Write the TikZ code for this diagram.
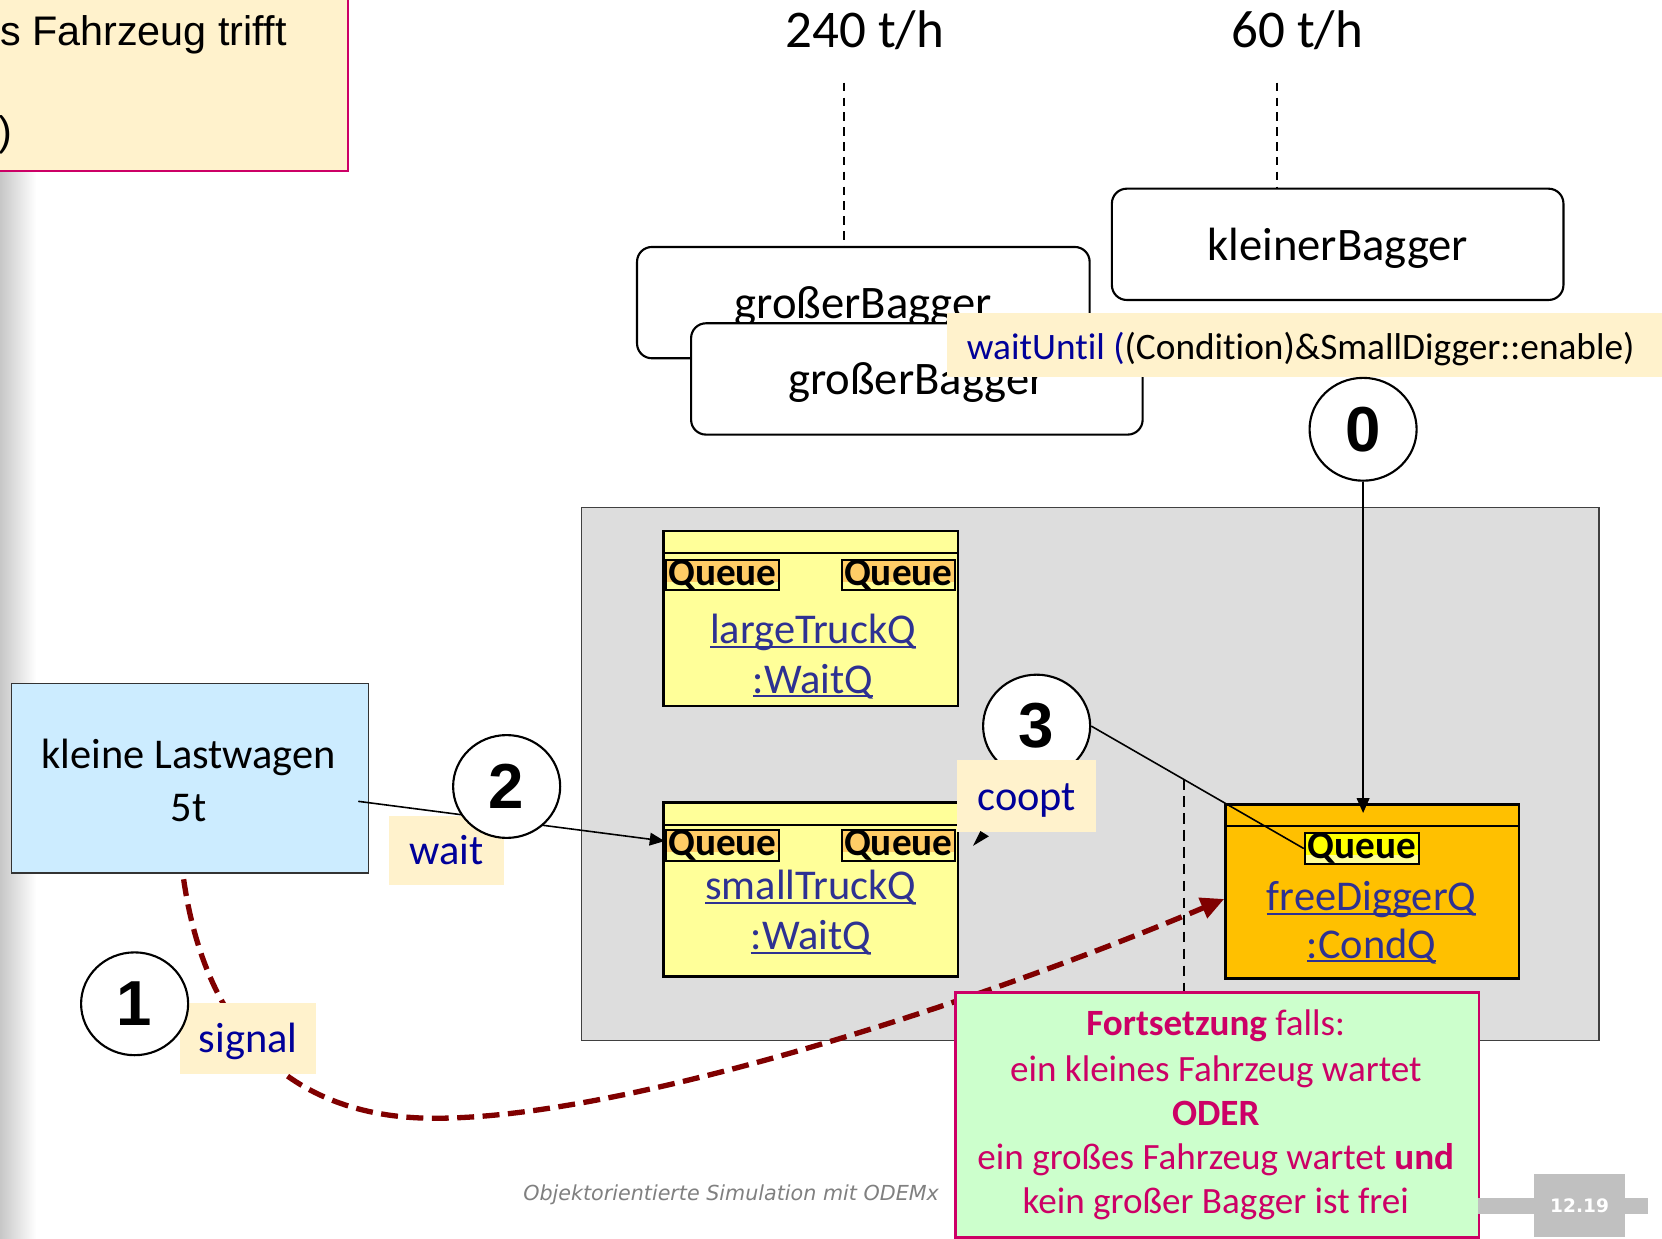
\documentclass[tikz,border=0pt]{standalone}
\usepackage{fontspec}
\setmainfont{Carlito}[Ligatures=NoCommon]
\newfontfamily\arialfont{Liberation Sans}
\newfontfamily\footfont{DejaVu Sans}
\usetikzlibrary{arrows.meta,shapes.geometric,calc}

\definecolor{notefill}{HTML}{FFF2CC}
\definecolor{notemag}{HTML}{CC0066}
\definecolor{lblblue}{HTML}{000099}
\definecolor{linkblue}{HTML}{2E3192}
\definecolor{qyellow}{HTML}{FFFF99}
\definecolor{qorange}{HTML}{FFCC66}
\definecolor{tagyellow}{HTML}{FFFF00}
\definecolor{fdorange}{HTML}{FFC000}
\definecolor{kblue}{HTML}{CCECFF}
\definecolor{boxgray}{HTML}{DDDDDD}
\definecolor{gfill}{HTML}{CCFFCC}
\definecolor{sigred}{HTML}{800000}
\definecolor{footgray}{HTML}{808080}
\definecolor{slgray}{HTML}{C0C0C0}

% font size in pt, baseline skip equal to size
\newcommand\fsz[1]{\fontsize{#1}{#1}\selectfont}
% underline at a fixed depth below the baseline
\newcommand\ulq[1]{\setbox0=\hbox{#1}\rlap{\copy0}\rule[-0.1em]{\wd0}{0.05em}}

\begin{document}
\begin{tikzpicture}[x=1pt,y=-1pt,
  roundbox/.style={draw, line width=2pt, rounded corners=14pt, fill=white,
    inner sep=0pt, anchor=north west, text depth=0pt, font=\fsz{44}},
  qbox/.style={draw, line width=2.2pt, anchor=north west, inner sep=0pt},
  qtag/.style={draw, line width=2pt, fill=qyellow, minimum width=107pt,
    minimum height=29pt, inner sep=0pt, anchor=north west,
    font=\bfseries\fsz{37},
    path picture={\fill[#1] (path picture bounding box.north west)
      rectangle ([yshift=8pt]path picture bounding box.south east);}},
  qname/.style={anchor=base, inner sep=0pt, text=linkblue, font=\fsz{40}},
  lbl/.style={fill=notefill, text=lblblue, inner sep=0pt, anchor=north west,
    text height=26pt, text depth=0pt, font=\fsz{40}},
  num/.style={ellipse, draw, line width=2pt, fill=white, minimum width=101pt,
    minimum height=97pt, inner sep=0pt, font=\arialfont\bfseries\fsz{60}},
  plain/.style={anchor=base, inner sep=0pt},
  gtext/.style={anchor=base, inner sep=0pt, text=notemag, font=\fsz{35}},
  lifeline/.style={line width=1.5pt, dash pattern=on 8pt off 6pt},
  arr/.style={line width=1.5pt, -{Triangle[length=14pt,width=12pt]}},
  sigline/.style={draw=sigred, line width=5pt, dash pattern=on 16pt off 8pt,
    -{Triangle[length=22pt,width=20pt]}}]

\useasboundingbox (0,0) rectangle (1568,1168);
\clip (0,0) rectangle (1568,1168);
\fill[white] (0,0) rectangle (1568,1168);
\shade[left color=black!22, right color=white] (0,160) rectangle (34,1168);

% note in the upper left corner
\node[draw=notemag, line width=2.5pt, fill=notefill, minimum width=347pt,
  minimum height=180pt, anchor=north west, inner sep=0pt] (note) at (-20,-20) {};
\node[anchor=base west, inner sep=0pt, font=\arialfont\fsz{39}] (noteA) at (0,43) {s Fahrzeug trifft};
\node[anchor=base east, inner sep=0pt, font=\arialfont\fsz{39}] (noteB) at (12,137) {)};

% digging rates and lifelines
\node[plain, font=\fsz{50}] (rateL) at (816,45) {240 t/h};
\node[plain, font=\fsz{50}] (rateS) at (1224,45) {60 t/h};

\node[roundbox, minimum width=427pt, minimum height=105pt] (gb1) at (600,232) {großerBagger};
\node[roundbox, minimum width=426pt, minimum height=105pt] (gb2) at (651,304) {großerBagger};
\node[roundbox, minimum width=426pt, minimum height=105pt] (kb) at (1048,177) {kleinerBagger};

\coordinate (lifeL) at (796,78);
\coordinate (lifeS) at (1205,78);
\draw[lifeline] (lifeL) -- (lifeL |- gb1.north);
\draw[lifeline] (lifeS) -- (lifeS |- kb.north);

% wait condition of the small digger
\node[fill=notefill, minimum width=700pt, minimum height=60pt, anchor=north west,
  inner sep=0pt] (wu) at (893,295) {};
\node[anchor=base west, inner sep=0pt, font=\fsz{35.2}] (wutext) at (912,339)
  {\textcolor{lblblue}{waitUntil (}(Condition)\&SmallDigger::enable)};

\node[num] (c0) at (1286,405) {0};

% system with its queues
\node[draw=black!75, line width=1.5pt, fill=boxgray, minimum width=960pt,
  minimum height=503pt, anchor=north west, inner sep=0pt] (sys) at (548,478) {};

\node[qbox, fill=qyellow, minimum width=278pt, minimum height=165pt] (lt) at (625,500) {};
\draw[line width=2pt] ([yshift=-22pt]lt.north west) -- ([yshift=-22pt]lt.north east);
\node[qtag=qorange] (ltA) at (627,527) {Queue};
\node[qtag=qorange, anchor=north east] (ltB) at (902,527) {Queue};
\node[qname] (ltN1) at (767,607) {\ulq{largeTruckQ}};
\node[qname] (ltN2) at (767,654) {\ulq{:WaitQ}};

\node[qbox, fill=qyellow, minimum width=278pt, minimum height=164pt] (st) at (625,756) {};
\draw[line width=2pt] ([yshift=-22pt]st.north west) -- ([yshift=-22pt]st.north east);
\node[qtag=qorange] (stA) at (627,782) {Queue};
\node[qtag=qorange, anchor=north east] (stB) at (902,782) {Queue};
\node[qname] (stN1) at (765,849) {\ulq{smallTruckQ}};
\node[qname] (stN2) at (765,896) {\ulq{:WaitQ}};

\node[qbox, fill=fdorange, minimum width=277pt, minimum height=164pt] (fd) at (1155,758) {};
\draw[line width=2pt] ([yshift=-21pt]fd.north west) -- ([yshift=-21pt]fd.north east);
\node[qtag=tagyellow, minimum width=108pt, anchor=north] (fdA) at (1285,785) {Queue};
\node[qname] (fdN1) at (1294,859) {\ulq{freeDiggerQ}};
\node[qname] (fdN2) at (1294,904) {\ulq{:CondQ}};

\draw[arr] (c0) -- ([yshift=-9pt]c0.south |- fd.north);

% small trucks waiting
\node[draw=black!80, line width=1.5pt, fill=kblue, minimum width=337pt,
  minimum height=179pt, anchor=north west, inner sep=0pt] (kl) at (10,644) {};
\node[plain, font=\fsz{40}] (klA) at (178,725) {kleine Lastwagen};
\node[plain, font=\fsz{40}] (klB) at (178,775) {5t};

\coordinate (klout) at (338,756);
\draw[arr] (klout) -- ([yshift=4pt]stA.west);
\node[lbl, minimum width=108pt, minimum height=65pt] (wait) at (367,770) {wait};
\node[num] (c2) at (478,742) {2};

% coopt step
\node[num] (c3) at (978,685) {3};
\draw[line width=1.5pt] (c3.east) -- (fdA.west);
\coordinate (obs) at (1117,735);
\coordinate (obsEnd) at (1117,940);
\draw[line width=2pt, dash pattern=on 10pt off 6pt] (obs) -- (obsEnd);
\node[lbl, minimum width=131pt, minimum height=68pt] (coopt) at (903,717) {coopt};
\fill (918,798) -- (933,789) -- (925,784) -- cycle;

% signal to the condition queue
\draw[sigline] ([xshift=-6pt,yshift=-5pt]kl.south)
  .. controls (195,980) and (280,1055) .. (410,1055)
  .. controls (600,1055) and (950,935) .. ([yshift=-7pt]fd.west);
\node[lbl, minimum width=128pt, minimum height=67pt] (signal) at (170,946) {signal};
\node[num] (c1) at (127,947) {1};

% continuation condition
\node[draw=notemag, line width=2.5pt, fill=gfill, minimum width=494pt,
  minimum height=231pt, anchor=north west, inner sep=0pt] (gr) at (900,935) {};
\node[gtext] (g1) at (1147,977) {\textbf{Fortsetzung} falls:};
\node[gtext] (g2) at (1147,1020) {ein kleines Fahrzeug wartet};
\node[gtext] (g3) at (1147,1062) {\textbf{ODER}};
\node[gtext] (g4) at (1147,1103) {ein großes Fahrzeug wartet \textbf{und}};
\node[gtext] (g5) at (1147,1145) {kein großer Bagger ist frei};

% footer
\node[anchor=base east, inner sep=0pt, text=footgray, font=\footfont\itshape\fsz{19.5}]
  (foot) at (886,1133) {Objektorientierte Simulation mit ODEMx};
\fill[slgray] (1394,1130) rectangle (1555,1145);
\node[fill=slgray, minimum width=86pt, minimum height=60pt, anchor=north west,
  inner sep=0pt, text=white, font=\footfont\bfseries\fsz{17.5}] (pg) at (1447,1107) {12.19};

\end{tikzpicture}
\end{document}
